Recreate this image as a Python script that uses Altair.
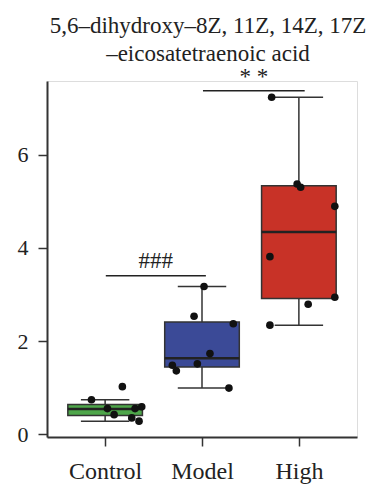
import altair as alt
import pandas as pd

groups = ["Control", "Model", "High"]
positions = [1, 2, 3]
fills = ["#4ea64a", "#3b4a97", "#c83227"]

# box statistics
lower = [0.28, 0.99, 2.34]
q1 = [0.40, 1.44, 2.91]
median = [0.54, 1.63, 4.34]
q3 = [0.64, 2.41, 5.33]
upper = [0.74, 3.17, 7.23]

# individual points (value, horizontal jitter in category units)
control_vals = [1.02, 0.74, 0.55, 0.42, 0.55, 0.59, 0.35, 0.28]
control_jit = [0.178, -0.141, 0.024, 0.093, 0.309, 0.378, 0.275, 0.35]
model_vals = [3.17, 2.53, 2.37, 1.73, 1.51, 1.48, 1.36, 0.99]
model_jit = [0.021, -0.082, 0.323, 0.082, -0.048, -0.306, -0.265, 0.278]
high_vals = [7.23, 5.37, 5.30, 4.89, 3.81, 2.94, 2.79, 2.34]
high_jit = [-0.281, -0.018, 0.018, 0.371, -0.299, 0.371, 0.096, -0.299]

# significance annotations
sig_labels = ["###", "* *"]
sig_x1 = [1.007, 2.01]
sig_x2 = [2.04, 3.06]
sig_y = [3.40, 7.37]
sig_text_y = [3.71, 7.66]

title_lines = ["5,6\u2013dihydroxy\u20138Z, 11Z, 14Z, 17Z", "\u2013eicosatetraenoic acid"]

FONT = "Liberation Serif"
BOX_HALF = 0.385
CAP_HALF = 0.25

box_df = pd.DataFrame({
    "pos": positions, "group": groups, "lower": lower, "q1": q1,
    "median": median, "q3": q3, "upper": upper,
})

rows = []
for g, p, vals, jit in [("Control", 1, control_vals, control_jit),
                        ("Model", 2, model_vals, model_jit),
                        ("High", 3, high_vals, high_jit)]:
    for v, j in zip(vals, jit):
        rows.append({"group": g, "pos": p, "value": v, "jit": j})
pts_df = pd.DataFrame(rows)

sig_df = pd.DataFrame({"label": sig_labels, "x1": sig_x1, "x2": sig_x2,
                       "y": sig_y, "ty": sig_text_y})

label_expr = " : ".join(
    [f"datum.value == {p} ? '{g}'" for p, g in zip(positions[:-1], groups[:-1])]
) + f" : '{groups[-1]}'"

xscale = alt.Scale(domain=[0.4, 3.6], nice=False, zero=False)
yscale = alt.Scale(domain=[-0.06, 7.58], nice=False, zero=False)

xaxis = alt.Axis(values=positions, labelExpr=label_expr, title=None, grid=False,
                 domainColor="#333", domainWidth=2, tickColor="#333", tickWidth=1.5,
                 tickSize=9, labelFont=FONT, labelFontSize=24, labelColor="#222",
                 labelPadding=13)
yaxis = alt.Axis(values=[0, 2, 4, 6], title=None, grid=False,
                 domainColor="#333", domainWidth=2, tickColor="#333", tickWidth=1.5,
                 tickSize=9, labelFont=FONT, labelFontSize=22, labelColor="#222",
                 labelPadding=10)

base = alt.Chart(box_df).transform_calculate(
    bx1=f"datum.pos - {BOX_HALF}", bx2=f"datum.pos + {BOX_HALF}",
    cx1=f"datum.pos - {CAP_HALF}", cx2=f"datum.pos + {CAP_HALF}",
)

whisk_up = base.mark_rule(color="#333", strokeWidth=1.5).encode(
    x=alt.X("pos:Q", scale=xscale, axis=xaxis),
    y=alt.Y("q3:Q", scale=yscale, axis=yaxis), y2="upper:Q")
whisk_lo = base.mark_rule(color="#333", strokeWidth=1.5).encode(
    x="pos:Q", y="lower:Q", y2="q1:Q")
cap_up = base.mark_rule(color="#333", strokeWidth=1.5).encode(
    x="cx1:Q", x2="cx2:Q", y="upper:Q")
cap_lo = base.mark_rule(color="#333", strokeWidth=1.5).encode(
    x="cx1:Q", x2="cx2:Q", y="lower:Q")
boxes = base.mark_rect(stroke="#333", strokeWidth=1.5).encode(
    x="bx1:Q", x2="bx2:Q", y="q1:Q", y2="q3:Q",
    fill=alt.Fill("group:N", scale=alt.Scale(domain=groups, range=fills), legend=None))
med = base.mark_rule(color="#222", strokeWidth=2.5).encode(
    x="bx1:Q", x2="bx2:Q", y="median:Q")

points = alt.Chart(pts_df).transform_calculate(
    px="datum.pos + datum.jit"
).mark_circle(size=58, color="#111", opacity=1).encode(
    x="px:Q", y="value:Q")

sig_rules = alt.Chart(sig_df).mark_rule(color="#222", strokeWidth=1.5).encode(
    x="x1:Q", x2="x2:Q", y="y:Q")
sig_text = alt.Chart(sig_df).transform_calculate(
    tx="(datum.x1 + datum.x2) / 2"
).mark_text(font=FONT, fontSize=23, color="#222", baseline="middle").encode(
    x="tx:Q", y="ty:Q", text="label:N")

chart = alt.layer(
    whisk_up, whisk_lo, cap_up, cap_lo, boxes, med, points, sig_rules, sig_text
).properties(
    width=310, height=356,
    title=alt.TitleParams(title_lines, font=FONT, fontSize=23, fontWeight="normal",
                          color="#222", lineHeight=28, anchor="middle", dx=6, offset=0),
    autosize=alt.AutoSizeParams(type="none"),
    padding={"left": 39, "top": 73, "right": 22, "bottom": 55},
).configure_view(stroke="#666", strokeWidth=1.5).configure(background="white")

chart.save("out.html", embed_options={"renderer": "svg", "actions": False})
